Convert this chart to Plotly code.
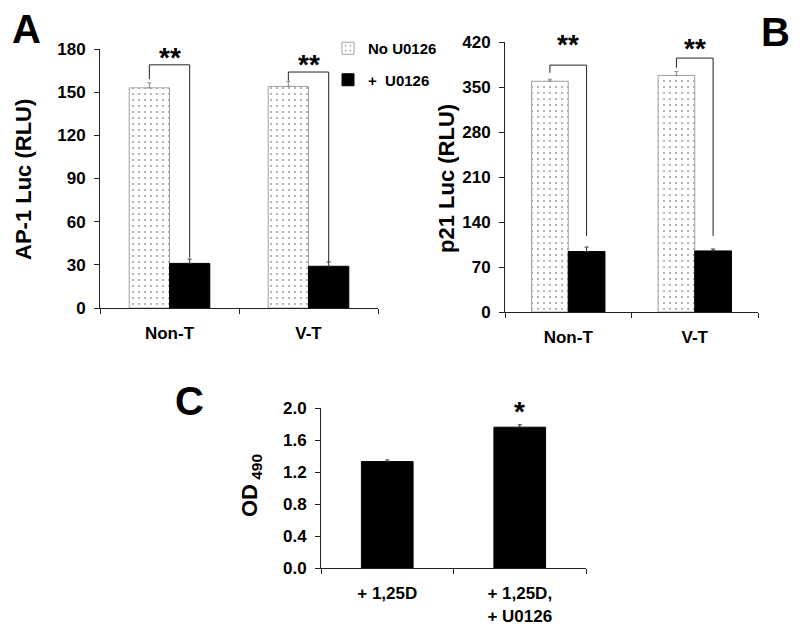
import plotly.graph_objects as go

# ---------------- data ----------------
groups = ["Non-T", "V-T"]
series_names = ["No U0126", "+  U0126"]

ap1_no = [153, 154]
ap1_no_err = [3.5, 3.5]
ap1_u = [31, 29]
ap1_u_err = [3, 3]

p21_no = [359, 368]
p21_no_err = [3, 6]
p21_u = [94, 95]
p21_u_err = [7, 3]

c_labels = ["+ 1,25D", "+ 1,25D,<br>+ U0126"]
c_vals = [1.33, 1.76]
c_err = [0.02, 0.03]

# significance brackets: (top, left-foot, right-foot) in data units
ap1_brackets = [(169, 159, 35), (164, 158, 32)]
p21_brackets = [(384, 372, 118), (395, 380, 118)]
ap1_stars = ["**", "**"]
p21_stars = ["**", "**"]
p21_star_y = [405, 398]
c_star = ["", "*"]

# page body has an 8px margin; the figure fills the rest of the 800x624 window
OFF = 8
W, H = 800 - OFF, 624 - OFF
FONT = "Liberation Sans, Arial, sans-serif"
BW = 0.29  # bar width (category units)

def px_x(p):
    return (p - OFF) / W

def px_y(p):
    return 1 - (p - OFF) / H

fig = go.Figure()

pattern = dict(shape=".", fgcolor="#444444", bgcolor="white", size=6, solidity=0.1)

def add_pair(xa, ya, no, no_err, u, u_err, show):
    fig.add_trace(go.Bar(
        x=list(range(len(groups))), y=no, name=series_names[0],
        width=BW, offset=-BW, xaxis=xa, yaxis=ya, showlegend=show,
        legendgroup="a",
        marker=dict(color="white", pattern=pattern, line=dict(color="#a0a0a0", width=1)),
        error_y=dict(type="data", symmetric=False, array=no_err, arrayminus=[0] * len(no),
                     color="#888888", thickness=1, width=2),
    ))
    fig.add_trace(go.Bar(
        x=list(range(len(groups))), y=u, name=series_names[1],
        width=BW, offset=0, xaxis=xa, yaxis=ya, showlegend=show,
        legendgroup="b",
        marker=dict(color="black", line=dict(color="black", width=1)),
        error_y=dict(type="data", symmetric=False, array=u_err, arrayminus=[0] * len(u),
                     color="#333333", thickness=1, width=2),
    ))

add_pair("x", "y", ap1_no, ap1_no_err, ap1_u, ap1_u_err, True)
add_pair("x2", "y2", p21_no, p21_no_err, p21_u, p21_u_err, False)

fig.add_trace(go.Bar(
    x=list(range(len(c_labels))), y=c_vals, width=0.39, offset=-0.195,
    xaxis="x3", yaxis="y3", showlegend=False,
    marker=dict(color="black", line=dict(color="black", width=1)),
    error_y=dict(type="data", symmetric=False, array=c_err, arrayminus=[0, 0],
                 color="#333333", thickness=1, width=2),
))

tickfont_y = dict(family=FONT, size=17, color="black", weight="bold")
tickfont_x = dict(family=FONT, size=17, color="black", weight="bold")
common_y = dict(showgrid=False, zeroline=False, showline=True, linecolor="#222222", linewidth=1,
                ticks="outside", ticklen=5, tickcolor="#222222", tickfont=tickfont_y,
                ticklabelstandoff=5)
minor = dict(tickmode="array", tickvals=[-0.5, 0.5, 1.5], ticks="outside", ticklen=5, tickcolor="#222222")
common_x = dict(showgrid=False, zeroline=False, showline=True, linecolor="#222222", linewidth=1,
                ticks="", tickfont=tickfont_x, tickmode="array", tickvals=[0, 1],
                range=[-0.5, 1.5], ticklabelstandoff=10, minor=minor)

fig.update_layout(
    xaxis=dict(domain=[px_x(100), px_x(378)], anchor="y", ticktext=groups, **common_x),
    yaxis=dict(domain=[px_y(308), px_y(49)], anchor="x", range=[0, 180], dtick=30, **common_y),
    xaxis2=dict(domain=[px_x(505), px_x(758)], anchor="y2", ticktext=groups, **common_x),
    yaxis2=dict(domain=[px_y(312), px_y(42)], anchor="x2", range=[0, 420], dtick=70, **common_y),
    xaxis3=dict(domain=[px_x(321), px_x(586)], anchor="y3", ticktext=c_labels, **common_x),
    yaxis3=dict(domain=[px_y(568), px_y(408)], anchor="x3", range=[0, 2.0], dtick=0.4,
                tickformat=".1f", **common_y),
)

shapes = []
annotations = []
star_font = dict(family=FONT, size=28, color="black", weight="bold")

def bracket(xref, yref, cat, top, lft, rgt):
    xl, xr = cat - BW / 2, cat + BW / 2
    line = dict(color="#222222", width=1)
    shapes.append(dict(type="line", xref=xref, yref=yref, x0=xl, x1=xl, y0=lft, y1=top, line=line))
    shapes.append(dict(type="line", xref=xref, yref=yref, x0=xl, x1=xr, y0=top, y1=top, line=line))
    shapes.append(dict(type="line", xref=xref, yref=yref, x0=xr, x1=xr, y0=top, y1=rgt, line=line))

for i, (t, l, r) in enumerate(ap1_brackets):
    bracket("x", "y", i, t, l, r)
    annotations.append(dict(xref="x", yref="y", x=i, y=t, text=ap1_stars[i], showarrow=False,
                            xanchor="center", yanchor="bottom", yshift=-10, font=star_font))
for i, (t, l, r) in enumerate(p21_brackets):
    bracket("x2", "y2", i, t, l, r)
    annotations.append(dict(xref="x2", yref="y2", x=i, y=p21_star_y[i], text=p21_stars[i], showarrow=False,
                            xanchor="center", yanchor="bottom", yshift=-10, font=star_font))
for i, s in enumerate(c_star):
    if s:
        annotations.append(dict(xref="x3", yref="y3", x=i, y=c_vals[i] + c_err[i], text=s, showarrow=False,
                                xanchor="center", yanchor="bottom", yshift=-4, font=star_font))

title_font = dict(family=FONT, size=22, color="black", weight="bold")
for txt, xx, yy in [("AP-1 Luc (RLU)", 23, 180), ("p21 Luc (RLU)", 446, 178), ("OD<sub> 490</sub>", 251, 486)]:
    annotations.append(dict(xref="paper", yref="paper", x=px_x(xx), y=px_y(yy), text=txt,
                            xanchor="center", yanchor="middle",
                            textangle=-90, showarrow=False, font=title_font))
letter_font = dict(family=FONT, size=40, color="black", weight="bold")
for letter, xx, yy in [("A", 26, 29), ("B", 775, 32), ("C", 189, 401)]:
    annotations.append(dict(xref="paper", yref="paper", x=px_x(xx), y=px_y(yy), text=letter,
                            xanchor="center", yanchor="middle", borderpad=0,
                            showarrow=False, font=letter_font))

fig.update_layout(
    width=W, height=H, margin=dict(l=0, r=0, t=0, b=0, autoexpand=False),
    paper_bgcolor="white", plot_bgcolor="white",
    font=dict(family=FONT, color="black"),
    shapes=shapes, annotations=annotations,
    legend=dict(x=px_x(328), y=px_y(32), xanchor="left", yanchor="top", bgcolor="rgba(0,0,0,0)",
                font=dict(family=FONT, size=15, color="black", weight="bold"),
                tracegroupgap=9, traceorder="grouped"),
)

fig.write_html("out.html")
